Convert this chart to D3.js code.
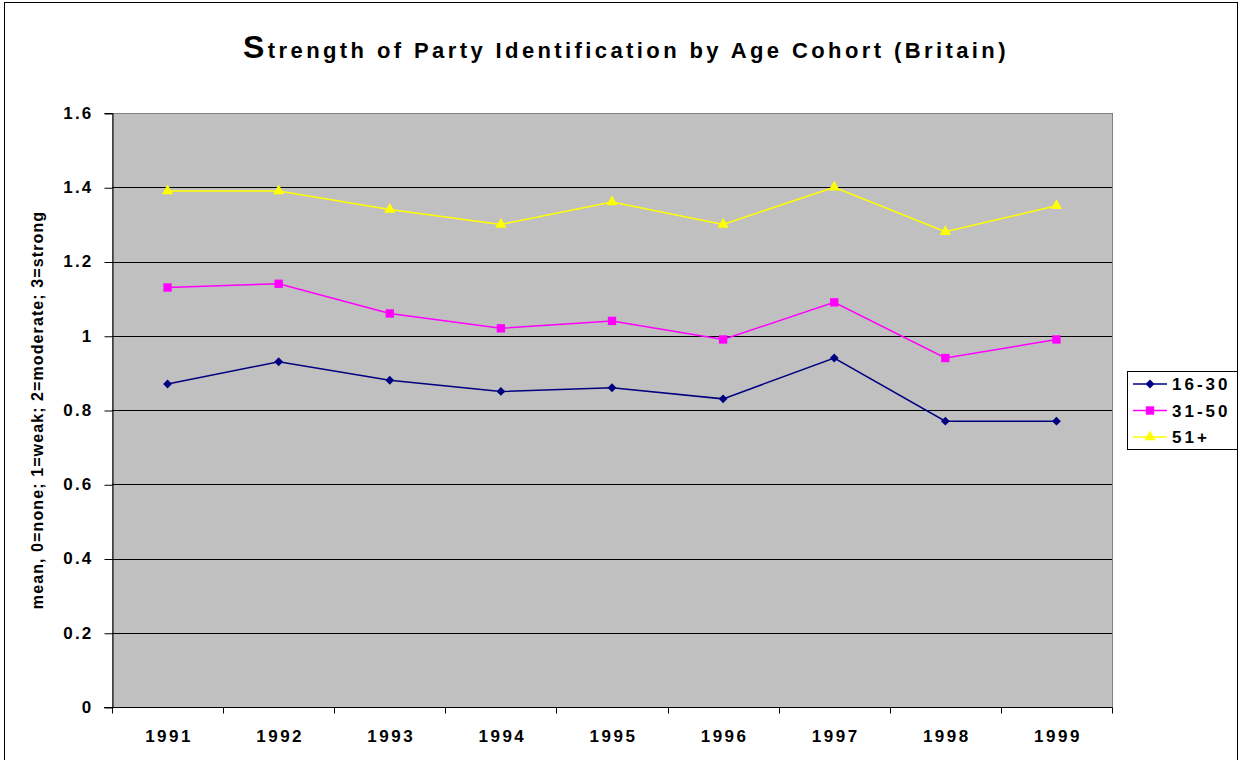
<!DOCTYPE html>
<html>
<head>
<meta charset="utf-8">
<script src="https://cdn.jsdelivr.net/npm/d3@7"></script>
<style>
    body { margin: 0; background: #fff; }
    svg text { font-family: "Liberation Sans", Arial, sans-serif; fill: #000; }
</style>
</head>
<body>
<svg id="chart" width="1242" height="760"></svg>
<script>

var years = [ '1991', '1992', '1993', '1994', '1995', '1996', '1997', '1998', '1999' ];
var cohorts = [ '16-30', '31-50', '51+' ];
var young = [ 0.87, 0.93, 0.88, 0.85, 0.86, 0.83, 0.94, 0.77, 0.77 ];
var middle = [ 1.13, 1.14, 1.06, 1.02, 1.04, 0.99, 1.09, 0.94, 0.99 ];
var old = [ 1.39, 1.39, 1.34, 1.30, 1.36, 1.30, 1.40, 1.28, 1.35 ];
var yTicks = [ 0, 0.2, 0.4, 0.6, 0.8, 1, 1.2, 1.4, 1.6 ];

var series = [
    { name: cohorts[0], values: young, color: '#000080', symbol: d3.symbolDiamond2, size: 50 },
    { name: cohorts[1], values: middle, color: '#ff00ff', symbol: d3.symbolSquare, size: 70 },
    { name: cohorts[2], values: old, color: '#ffff00', symbol: d3.symbolTriangle, size: 55 }
];

var svg = d3.select('#chart');

// outer frame
svg.append('rect')
    .attr('x', 4.5).attr('y', 2.5)
    .attr('width', 1233).attr('height', 770)
    .attr('fill', 'none')
    .attr('stroke', '#000');

var plotLeft = 112, plotRight = 1112, plotTop = 113, plotBottom = 707;

var x = d3.scaleBand().domain( years ).range([ plotLeft, plotRight ]);
var y = d3.scaleLinear().domain([ 0, 1.6 ]).range([ plotBottom, plotTop ]);

// plot area
svg.append('rect')
    .attr('x', plotLeft + 0.5).attr('y', plotTop + 0.5)
    .attr('width', plotRight - plotLeft).attr('height', plotBottom - plotTop)
    .attr('fill', '#c0c0c0')
    .attr('stroke', '#808080');

// gridlines
svg.append('g').selectAll('line')
    .data( yTicks.slice(1, -1) )
    .enter().append('line')
    .attr('x1', plotLeft).attr('x2', plotRight)
    .attr('y1', function (d) { return Math.round( y(d) ) + 0.5; })
    .attr('y2', function (d) { return Math.round( y(d) ) + 0.5; })
    .attr('stroke', '#000');

// y axis
var yAxis = svg.append('g')
    .attr('transform', 'translate(' + (plotLeft + 0.5) + ',0)')
    .call( d3.axisLeft( y ).tickValues( yTicks ).tickSize( 8 ).tickPadding( 11 )
        .tickFormat( function (d) { return ( d === 0 || d === 1 ) ? String(d) : d3.format('.1f')(d); } ) );

yAxis.select('.domain').attr('stroke', '#000');
yAxis.selectAll('.tick line').attr('transform', 'translate(0,0.5)');
yAxis.selectAll('text')
    .style('font-family', '"Liberation Sans", Arial, sans-serif')
    .style('font-size', '17px')
    .style('font-weight', 'bold')
    .style('letter-spacing', '2.2px');

// x axis
var xAxis = svg.append('g')
    .attr('transform', 'translate(0,' + (plotBottom + 0.5) + ')');

xAxis.append('line')
    .attr('x1', plotLeft - 8).attr('x2', plotRight)
    .attr('stroke', '#000');

xAxis.selectAll('.tick')
    .data( years )
    .enter().append('line')
    .attr('x1', function (d) { return Math.round( x(d) ) + 0.5; })
    .attr('x2', function (d) { return Math.round( x(d) ) + 0.5; })
    .attr('y1', 0).attr('y2', 6)
    .attr('stroke', '#000');

xAxis.append('line')
    .attr('x1', plotRight + 0.5).attr('x2', plotRight + 0.5)
    .attr('y1', 0).attr('y2', 6)
    .attr('stroke', '#000');

xAxis.selectAll('text')
    .data( years )
    .enter().append('text')
    .attr('x', function (d) { return x(d) + x.bandwidth() / 2 + 1.5; })
    .attr('y', 34)
    .attr('text-anchor', 'middle')
    .style('font-size', '17px')
    .style('font-weight', 'bold')
    .style('letter-spacing', '2.5px')
    .text( function (d) { return d; } );

// y axis title
svg.append('text')
    .attr('transform', 'translate(43,410) rotate(-90)')
    .attr('text-anchor', 'middle')
    .style('font-size', '16px')
    .style('font-weight', 'bold')
    .style('letter-spacing', '1.1px')
    .text('mean, 0=none; 1=weak; 2=moderate; 3=strong');

// title
var title = svg.append('text')
    .attr('x', 626).attr('y', 58)
    .attr('text-anchor', 'middle')
    .style('font-weight', 'bold')
    .style('letter-spacing', '3.4px');

title.append('tspan').style('font-size', '32px').text('S');
title.append('tspan').style('font-size', '22px').text('trength of Party Identification by Age Cohort (Britain)');

// lines and markers
var line = d3.line()
    .x( function (d, i) { return x( years[i] ) + x.bandwidth() / 2; } )
    .y( function (d) { return y(d); } );

series.forEach( function (s) {

    svg.append('path')
        .datum( s.values )
        .attr('d', line)
        .attr('fill', 'none')
        .attr('stroke', s.color)
        .attr('stroke-width', 1.5);

    svg.append('g').selectAll('path')
        .data( s.values )
        .enter().append('path')
        .attr('transform', function (d, i) {
            return 'translate(' + ( x( years[i] ) + x.bandwidth() / 2 ) + ',' + y(d) + ')';
        })
        .attr('d', d3.symbol().type( s.symbol ).size( s.size ))
        .attr('fill', s.color);

});

// legend
var legend = svg.append('g');

legend.append('rect')
    .attr('x', 1127.5).attr('y', 371.5)
    .attr('width', 110).attr('height', 78)
    .attr('fill', '#fff')
    .attr('stroke', '#000');

series.forEach( function (s, i) {

    var ly = 384 + i * 26.5;

    legend.append('line')
        .attr('x1', 1133).attr('x2', 1167)
        .attr('y1', ly).attr('y2', ly)
        .attr('stroke', s.color)
        .attr('stroke-width', 1.5);

    legend.append('path')
        .attr('transform', 'translate(1150,' + ly + ')')
        .attr('d', d3.symbol().type( s.symbol ).size( s.size ))
        .attr('fill', s.color);

    legend.append('text')
        .attr('x', 1172).attr('y', ly + 6)
        .style('font-size', '17px')
        .style('font-weight', 'bold')
        .style('letter-spacing', '3px')
        .text( s.name );

});

</script>
</body>
</html>
